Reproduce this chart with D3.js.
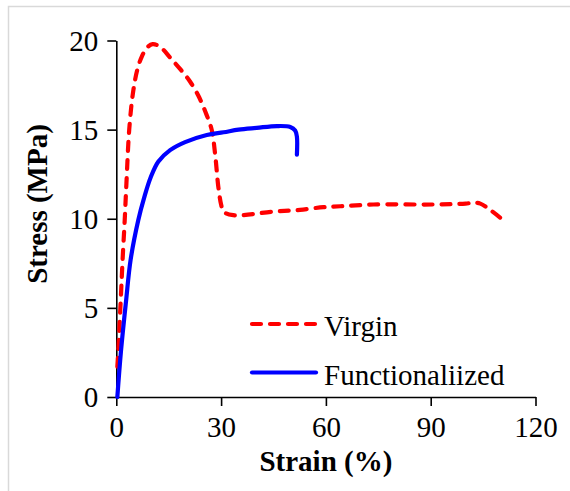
<!DOCTYPE html>
<html><head><meta charset="utf-8">
<script src="https://cdn.jsdelivr.net/npm/d3@7"></script>
<style>body{margin:0;background:#fff}svg{display:block}text{font-family:"Liberation Serif","Times New Roman",serif}</style>
</head><body>
<svg id="c" width="570" height="491"></svg>
<script>
const xTicks = [0, 30, 60, 90, 120];
const yTicks = [0, 5, 10, 15, 20];
const seriesNames = ["Virgin", "Functionaliized"];
const virginStrain = [0.3, 0.57, 1.26, 1.8, 2.4, 2.9, 3.7, 4.8, 6.0, 7.3, 8.8, 10.4, 12.5, 15.6, 18.5, 21.1, 23.5, 25.5, 27.3, 28.3, 29.2, 30.0, 30.7, 33.5, 45, 52.6, 59.3, 64.1, 73.6, 90.8, 100, 102.3, 104.2, 107, 109.9];
const virginStress = [1.7, 2.6, 5.4, 7.7, 9.9, 12.0, 15.0, 17.1, 18.35, 19.1, 19.6, 19.8, 19.65, 19.0, 18.35, 17.7, 16.9, 16.0, 15.0, 13.6, 11.8, 10.8, 10.4, 10.2, 10.4, 10.5, 10.65, 10.7, 10.8, 10.8, 10.85, 10.9, 10.85, 10.5, 10.06];
const funcStrain = [0.3, 1.35, 2.8, 4.1, 6.3, 8.0, 9.8, 12.0, 15.4, 19.7, 25.9, 30.7, 35, 40.2, 46, 49.8, 51.2, 51.7, 51.7];
const funcStress = [0, 2.6, 5.4, 7.7, 9.93, 11.2, 12.3, 13.2, 13.85, 14.3, 14.7, 14.85, 15.0, 15.1, 15.2, 15.15, 14.95, 14.6, 13.6];

const svg = d3.select("#c");
svg.append("rect").attr("x", 8.5).attr("y", 6.5).attr("width", 600).attr("height", 600)
  .attr("fill", "none").attr("stroke", "#d9d9d9").attr("stroke-width", 1.5);

const x = d3.scaleLinear().domain([0, 120]).range([116.3, 535.5]);
const y = d3.scaleLinear().domain([0, 20]).range([397, 40.5]);

const xAxis = svg.append("g").attr("transform", `translate(0,${y(0)})`)
  .call(d3.axisBottom(x).tickValues(xTicks).tickSize(9).tickPadding(10).tickSizeOuter(0));
const yAxis = svg.append("g").attr("transform", `translate(${x(0)},0)`)
  .call(d3.axisLeft(y).tickValues(yTicks).tickSize(9).tickPadding(9).tickSizeOuter(0));
[xAxis, yAxis].forEach(g => {
  g.selectAll("path,line").attr("stroke", "#000").attr("stroke-width", 1.6);
  g.selectAll("text").attr("font-size", 29).attr("fill", "#000")
    .attr("font-family", '"Liberation Serif","Times New Roman",serif');
});
yAxis.selectAll("text").attr("dy", "0.34em");

const line = d3.line().x(d => x(d[0])).y(d => y(d[1])).curve(d3.curveCatmullRom.alpha(0.5));
const vData = virginStrain.map((v, i) => [v, virginStress[i]]);
const fData = funcStrain.map((v, i) => [v, funcStress[i]]);

svg.append("path").datum(vData).attr("d", line).attr("fill", "none")
  .attr("stroke", "#ff0000").attr("stroke-width", 4.2).attr("stroke-dasharray", "9,9").attr("stroke-linecap", "round");
svg.append("path").datum(fData).attr("d", line).attr("fill", "none")
  .attr("stroke", "#0000ff").attr("stroke-width", 4.2).attr("stroke-linecap", "round");

// legend
const leg = [{name: seriesNames[0], color: "#ff0000", dash: "9,9", yy: 324},
             {name: seriesNames[1], color: "#0000ff", dash: null, yy: 372.5}];
leg.forEach(d => {
  svg.append("line").attr("x1", 252).attr("x2", 316).attr("y1", d.yy).attr("y2", d.yy)
    .attr("stroke", d.color).attr("stroke-width", 4.2).attr("stroke-linecap", "round")
    .attr("stroke-dasharray", d.dash);
  svg.append("text").attr("x", 324).attr("y", d.yy + 12).attr("font-size", 29).text(d.name);
});

svg.append("text").attr("x", x(60)).attr("y", 471).attr("text-anchor", "middle")
  .attr("font-size", 29).attr("font-weight", "bold").text("Strain (%)");
svg.append("text").attr("transform", "translate(47,204) rotate(-90)").attr("text-anchor", "middle")
  .attr("font-size", 29).attr("font-weight", "bold").text("Stress (MPa)");
</script>
</body></html>
